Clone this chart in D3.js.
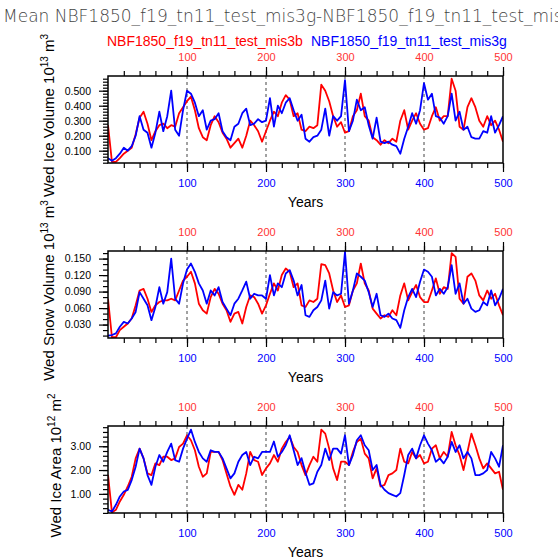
<!DOCTYPE html>
<html lang="en">
  <head>
    <meta charset="UTF-8" />
    <script src="https://cdn.jsdelivr.net/npm/d3@7/dist/d3.min.js"></script>
    <style>
      body {
        margin: 0;
        background: #fff;
      }
      text {
        font-family: "Liberation Sans", Arial, sans-serif;
      }
      .axis path.domain {
        display: none;
      }
      .axis line {
        stroke: #000;
        stroke-width: 1.2px;
      }
    </style>
  </head>
  <body>
    <div class="canvas"></div>
    <script>
      // model years (every 5th year)
      const years = d3.range(0, 501, 5);

      const runB = "NBF1850_f19_tn11_test_mis3b";
      const runG = "NBF1850_f19_tn11_test_mis3g";

      // Wed ice volume, 10^13 m^3
      const iceVolB = [
        0.27, 0.025, 0.025, 0.05, 0.08, 0.1, 0.12, 0.21, 0.32, 0.36,
        0.28, 0.17, 0.23, 0.27, 0.28, 0.25, 0.27, 0.26, 0.35, 0.39,
        0.43, 0.46, 0.37, 0.25, 0.19, 0.17, 0.27, 0.33, 0.29, 0.22,
        0.18, 0.12, 0.15, 0.18, 0.12, 0.2, 0.3, 0.27, 0.23, 0.16,
        0.23, 0.3, 0.36, 0.33, 0.42, 0.47, 0.44, 0.33, 0.35, 0.24,
        0.23, 0.26, 0.25, 0.27, 0.54, 0.5, 0.43, 0.33, 0.26, 0.29,
        0.22, 0.23, 0.33, 0.37, 0.48, 0.33, 0.3, 0.19, 0.17, 0.14,
        0.17, 0.15, 0.18, 0.16, 0.3, 0.37, 0.24, 0.3, 0.35, 0.28,
        0.24, 0.25, 0.33, 0.39, 0.3, 0.33, 0.33, 0.58, 0.5, 0.26,
        0.24, 0.39, 0.45, 0.39, 0.3, 0.26, 0.33, 0.27, 0.3, 0.24,
        0.16,
      ];
      const iceVolG = [
        0.05, 0.033, 0.05, 0.08, 0.12, 0.1, 0.13, 0.2, 0.33, 0.24,
        0.22, 0.12, 0.22, 0.36, 0.23, 0.33, 0.5, 0.24, 0.2, 0.37,
        0.5, 0.48, 0.42, 0.33, 0.37, 0.24, 0.3, 0.31, 0.35, 0.23,
        0.19, 0.17, 0.26, 0.28, 0.35, 0.38, 0.27, 0.28, 0.31, 0.29,
        0.3, 0.45, 0.26, 0.4, 0.35, 0.42, 0.45, 0.37, 0.3, 0.34,
        0.18, 0.16, 0.19, 0.2, 0.24, 0.38, 0.2, 0.33, 0.3, 0.33,
        0.57, 0.23, 0.3, 0.44, 0.37, 0.39, 0.27, 0.18, 0.32, 0.16,
        0.15, 0.16, 0.14, 0.13, 0.08, 0.18, 0.26, 0.35, 0.28, 0.37,
        0.55, 0.44, 0.48, 0.33, 0.32, 0.28, 0.33, 0.48, 0.3, 0.36,
        0.24, 0.26, 0.19, 0.18, 0.18, 0.23, 0.22, 0.33, 0.22, 0.27,
        0.33,
      ];

      // Wed snow volume, 10^13 m^3
      const snowVolB = [
        0.077, 0.007, 0.007, 0.02, 0.026, 0.032, 0.041, 0.065, 0.092, 0.095,
        0.077, 0.053, 0.065, 0.071, 0.074, 0.074, 0.077, 0.074, 0.092, 0.11,
        0.117, 0.126, 0.105, 0.068, 0.056, 0.05, 0.08, 0.095, 0.086, 0.068,
        0.056, 0.035, 0.05, 0.053, 0.032, 0.062, 0.083, 0.08, 0.068, 0.05,
        0.065, 0.086, 0.105, 0.092, 0.12, 0.132, 0.126, 0.098, 0.105, 0.065,
        0.062, 0.074, 0.071, 0.077, 0.14, 0.138, 0.123, 0.092, 0.071, 0.083,
        0.062, 0.065, 0.092, 0.105, 0.141, 0.105, 0.092, 0.059, 0.05, 0.041,
        0.047, 0.044, 0.056, 0.047, 0.083, 0.105, 0.074, 0.089, 0.102, 0.08,
        0.071, 0.071, 0.092, 0.114, 0.086, 0.098, 0.095, 0.16, 0.153, 0.077,
        0.068, 0.117, 0.123, 0.11, 0.083, 0.074, 0.092, 0.077, 0.086, 0.065,
        0.047,
      ];
      const snowVolG = [
        0.01, 0.011, 0.014, 0.026, 0.035, 0.032, 0.041, 0.053, 0.089, 0.077,
        0.065, 0.038, 0.062, 0.098, 0.068, 0.089, 0.15, 0.077, 0.068, 0.105,
        0.13, 0.141, 0.126, 0.105, 0.092, 0.068, 0.092, 0.083, 0.098, 0.071,
        0.059, 0.047, 0.068, 0.077, 0.092, 0.108, 0.077, 0.086, 0.083, 0.083,
        0.077, 0.12, 0.083, 0.105, 0.098, 0.123, 0.129, 0.11, 0.083, 0.102,
        0.047, 0.044, 0.056, 0.062, 0.074, 0.11, 0.059, 0.089, 0.083, 0.086,
        0.162, 0.068, 0.092, 0.123, 0.117, 0.11, 0.089, 0.062, 0.086, 0.047,
        0.044, 0.05, 0.041, 0.038, 0.024, 0.056, 0.08, 0.095, 0.08, 0.108,
        0.13, 0.126, 0.117, 0.083, 0.095, 0.086, 0.098, 0.138, 0.086, 0.105,
        0.068, 0.077, 0.059, 0.053, 0.056, 0.071, 0.065, 0.092, 0.065, 0.077,
        0.095,
      ];

      // Wed ice area, 10^12 m^2
      const iceAreaB = [
        1.8, 0.22, 0.33, 0.68, 0.96, 1.31, 1.72, 2.49, 2.9, 2.49,
        1.86, 1.79, 2.28, 2.21, 2.56, 2.56, 2.42, 2.49, 2.97, 3.11,
        3.46, 3.25, 2.83, 2.14, 1.72, 1.86, 2.76, 2.76, 2.76, 2.42,
        1.86, 1.31, 0.96, 1.38, 1.17, 1.86, 2.76, 2.42, 2.35, 1.79,
        2.07, 2.28, 2.63, 2.35, 2.9, 3.18, 3.39, 2.97, 2.76, 2.21,
        1.79, 2.21, 2.56, 2.35, 3.7, 3.53, 2.9, 2.07, 1.58, 2.35,
        2.35, 2.21, 2.76, 3.18, 3.32, 2.69, 2.49, 1.65, 2.07, 1.31,
        1.38, 1.79, 1.86, 2.0, 2.9, 2.35, 2.28, 2.76, 2.49, 2.63,
        2.28, 2.35, 2.9, 3.04, 2.49, 2.76, 2.56, 3.6, 3.04, 2.63,
        2.0, 2.76, 3.53, 3.04, 2.49, 2.07, 2.28, 2.07, 1.86, 1.93,
        1.17,
      ];
      const iceAreaG = [
        0.33, 0.26, 0.54, 0.89, 1.1, 1.17, 1.58, 2.14, 2.9, 2.49,
        1.79, 1.38, 2.14, 2.63, 2.35, 2.76, 3.11, 2.42, 2.35, 2.9,
        3.32, 3.7, 3.18, 2.76, 2.49, 2.35, 2.83, 2.76, 2.76, 2.49,
        2.07, 1.65, 1.86, 2.35, 2.63, 2.76, 2.21, 2.56, 2.49, 2.76,
        2.76, 2.76, 3.2, 2.56, 2.76, 3.04, 3.46, 2.83, 2.21, 2.5,
        1.9, 1.38, 1.44, 1.93, 2.21, 2.9, 2.42, 2.9, 2.9, 2.69,
        3.46, 2.21, 2.63, 3.25, 3.46, 3.04, 2.83, 2.0, 2.21, 1.38,
        1.17, 1.03, 0.96, 0.89, 1.03, 1.79, 2.63, 2.9, 2.49, 3.04,
        3.46, 3.11, 2.83, 2.35, 2.49, 2.28, 2.56, 3.18, 2.76, 3.04,
        2.49, 2.76, 2.49, 1.79, 1.79, 1.86, 2.0, 2.76, 2.49, 2.14,
        3.04,
      ];

      // tick labels
      const xTicks = [100, 200, 300, 400, 500];
      const xMinor = d3.range(20, 501, 20);
      const gridYears = [100, 200, 300, 400];
      const iceVolTicks = [0.1, 0.2, 0.3, 0.4, 0.5];
      const snowVolTicks = [0.03, 0.06, 0.09, 0.12, 0.15];
      const iceAreaTicks = [1, 2, 3];

      const width = 558;
      const height = 558;
      const left = 108;
      const right = 503;
      const panelH = 87;

      const panels = [
        {
          top: 76,
          b: iceVolB,
          g: iceVolG,
          domain: [0.018, 0.598],
          ticks: iceVolTicks,
          minor: d3.range(0.02, 0.59, 0.02),
          fmt: d3.format(".3f"),
          label: ["Wed Ice Volume 10", "13", " m", "3"],
          labelX: 54,
        },
        {
          top: 251,
          b: snowVolB,
          g: snowVolG,
          domain: [0.0056, 0.1638],
          ticks: snowVolTicks,
          minor: d3.range(0.01, 0.161, 0.01),
          fmt: d3.format(".3f"),
          label: ["Wed Snow Volume 10", "13", " m", "3"],
          labelX: 54,
        },
        {
          top: 426,
          b: iceAreaB,
          g: iceAreaG,
          domain: [0.196, 3.85],
          ticks: iceAreaTicks,
          minor: d3.range(0.2, 3.81, 0.2),
          fmt: d3.format(".2f"),
          label: ["Wed Ice Area 10", "12", " m", "2"],
          labelX: 61,
        },
      ];

      const svg = d3
        .select(".canvas")
        .append("svg")
        .attr("width", width)
        .attr("height", height);

      const xScale = d3.scaleLinear().domain([0, 500]).range([left, right]);

      // title (runs off the right edge, as in the original)
      svg
        .append("text")
        .attr("x", 3)
        .attr("y", 22)
        .style("font-family", '"DejaVu Sans", sans-serif')
        .style("font-weight", 200)
        .style("font-size", "17px")
        .attr("fill", "#444")
        .text("Mean " + runG + "-" + runB);

      svg
        .append("text")
        .attr("x", 107)
        .attr("y", 46)
        .attr("fill", "#f00")
        .style("font-size", "14px")
        .text(runB);
      svg
        .append("text")
        .attr("x", 311)
        .attr("y", 46)
        .attr("fill", "#00f")
        .style("font-size", "14px")
        .text(runG);

      panels.forEach((p, i) => {
        const bottom = p.top + panelH;
        const yScale = d3.scaleLinear().domain(p.domain).range([bottom, p.top]);
        const g = svg.append("g");

        g.append("clipPath")
          .attr("id", "clip" + i)
          .append("rect")
          .attr("x", left)
          .attr("y", p.top)
          .attr("width", right - left)
          .attr("height", panelH);

        // dashed reference years
        g.selectAll(".grid")
          .data(gridYears)
          .join("line")
          .attr("x1", (d) => xScale(d))
          .attr("x2", (d) => xScale(d))
          .attr("y1", p.top)
          .attr("y2", bottom)
          .attr("stroke", "#444")
          .attr("stroke-width", 1)
          .attr("stroke-dasharray", "3,3");

        const line = d3
          .line()
          .x((d, j) => xScale(years[j]))
          .y((d) => yScale(d));

        [
          [p.b, "#f00"],
          [p.g, "#00f"],
        ].forEach(([vals, col]) => {
          g.append("path")
            .datum(vals)
            .attr("clip-path", `url(#clip${i})`)
            .attr("fill", "none")
            .attr("stroke", col)
            .attr("stroke-width", 1.8)
            .attr("stroke-linejoin", "round")
            .attr("d", line);
        });

        // frame
        g.append("rect")
          .attr("x", left)
          .attr("y", p.top)
          .attr("width", right - left)
          .attr("height", panelH)
          .attr("fill", "none")
          .attr("stroke", "#000")
          .attr("stroke-width", 1.5);

        // bottom axis (blue labels)
        const bAxis = g
          .append("g")
          .attr("class", "axis")
          .attr("transform", `translate(0,${bottom})`)
          .call(
            d3.axisBottom(xScale).tickValues(xTicks).tickSize(9).tickPadding(7)
          );
        bAxis
          .selectAll("text")
          .attr("fill", "#00f")
          .style("font-size", "11px")
          .style("font-family", '"Liberation Sans", Arial, sans-serif');
        g.append("g")
          .attr("class", "axis")
          .attr("transform", `translate(0,${bottom})`)
          .call(
            d3.axisBottom(xScale).tickValues(xMinor).tickSize(5).tickFormat("")
          );

        // top axis (red labels)
        const tAxis = g
          .append("g")
          .attr("class", "axis")
          .attr("transform", `translate(0,${p.top})`)
          .call(d3.axisTop(xScale).tickValues(xTicks).tickSize(9).tickPadding(6));
        tAxis
          .selectAll("text")
          .attr("fill", "#f33")
          .style("font-size", "11px")
          .style("font-family", '"Liberation Sans", Arial, sans-serif');
        g.append("g")
          .attr("class", "axis")
          .attr("transform", `translate(0,${p.top})`)
          .call(d3.axisTop(xScale).tickValues(xMinor).tickSize(5).tickFormat(""));

        // left axis
        const lAxis = g
          .append("g")
          .attr("class", "axis")
          .attr("transform", `translate(${left},0)`)
          .call(
            d3
              .axisLeft(yScale)
              .tickValues(p.ticks)
              .tickFormat(p.fmt)
              .tickSize(9)
              .tickPadding(8)
          );
        lAxis
          .selectAll("text")
          .attr("fill", "#000")
          .style("font-size", "10.5px")
          .style("font-family", '"Liberation Sans", Arial, sans-serif');
        g.append("g")
          .attr("class", "axis")
          .attr("transform", `translate(${left},0)`)
          .call(
            d3.axisLeft(yScale).tickValues(p.minor).tickSize(5).tickFormat("")
          );

        // axis titles
        g.append("text")
          .attr("x", (left + right) / 2)
          .attr("y", bottom + 44)
          .attr("text-anchor", "middle")
          .style("font-size", "14px")
          .text("Years");

        const yl = g
          .append("text")
          .attr(
            "transform",
            `translate(${p.labelX},${p.top + panelH / 2 - 4}) rotate(-90)`
          )
          .attr("text-anchor", "middle")
          .style("font-size", "15px");
        yl.append("tspan").text(p.label[0]);
        yl.append("tspan").attr("dy", -6).style("font-size", "10px").text(p.label[1]);
        yl.append("tspan").attr("dy", 6).text(p.label[2]);
        yl.append("tspan").attr("dy", -6).style("font-size", "10px").text(p.label[3]);
      });
    </script>
  </body>
</html>
